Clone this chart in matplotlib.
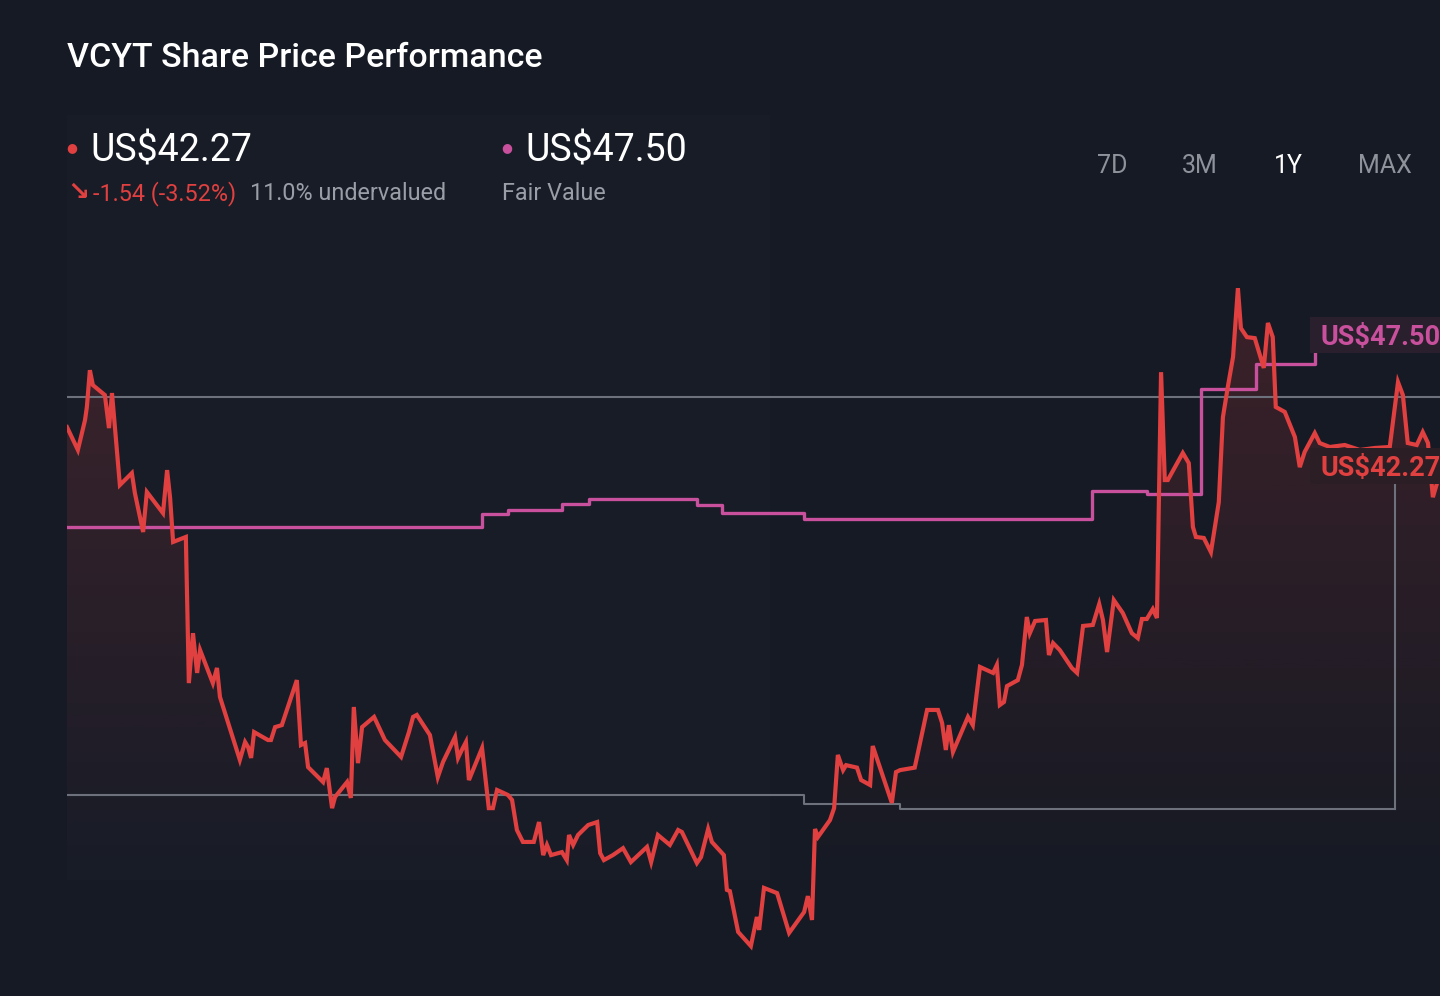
import numpy as np
import matplotlib
matplotlib.use("Agg")
import matplotlib.pyplot as plt
from matplotlib.colors import to_rgb
from matplotlib.patches import Rectangle

# --- data ---
days = [0, 2.9, 4.8, 5.3, 6.1, 6.9, 10.1, 11.2, 12.0, 14.1, 17.3, 18.1, 20.3, 21.3, 25.6,
        26.7, 27.5, 28.3, 31.7, 32.5, 33.6, 34.7, 35.5, 38.9, 40.0, 40.8, 46.1, 47.5, 48.3,
        49.1, 49.9, 53.6, 54.4, 55.5, 57.3, 61.3, 62.4, 63.5, 64.3, 68.3, 69.3, 70.7, 71.5,
        74.7, 75.7, 76.5, 77.6, 78.7, 81.9, 84.8, 89.1, 91.2, 92.3, 93.3, 96.8, 98.9, 100.3,
        103.5, 104.3, 105.3, 106.4, 107.2, 110.7, 112.5, 113.6, 114.7, 117.6, 118.7, 120.0,
        121.6, 124.5, 125.9, 127.0, 128.0, 129.1, 132.0, 133.3, 133.9, 135.0, 136.3, 139.0,
        141.4, 142.2, 143.2, 145.6, 148.3, 150.4, 154.7, 155.8, 157.6, 160.8, 163.0, 164.0,
        168.0, 169.1, 171.0, 172.0, 175.2, 176.0, 176.8, 179.0, 182.4, 184.0, 184.6, 185.9,
        189.4, 192.6, 196.6, 197.6, 198.7, 199.5, 200.3, 203.5, 204.6, 205.6, 207.0, 207.8,
        210.7, 211.8, 214.2, 214.9, 220.0, 221.1, 222.2, 226.1, 229.4, 232.3, 233.4, 234.4,
        235.2, 236.3, 240.3, 241.6, 243.5, 247.0, 248.0, 248.8, 249.9, 250.7, 253.6, 254.7,
        256.0, 256.8, 258.2, 261.1, 261.9, 263.0, 264.8, 268.0, 269.4, 271.0, 273.6, 275.3,
        276.3, 277.4, 279.2, 281.6, 284.0, 285.6, 286.7, 288.0, 289.6, 290.7, 291.8, 292.8,
        293.6, 297.6, 299.2, 300.3, 301.1, 303.2, 305.1, 307.2, 308.3, 309.6, 311.0, 312.3,
        313.1, 314.7, 316.8, 319.2, 320.3, 321.6, 322.4, 324.8, 327.5, 328.8, 330.1, 332.8,
        334.1, 336.8, 340.8, 344.8, 348.8, 352.8, 355.0, 356.3, 357.6, 360.0, 361.6, 363.0,
        364.3, 365.4, 366.2]
price = [43.80, 42.88, 44.08, 44.61, 46.09, 45.49, 45.09, 43.76, 45.17, 41.47, 41.95, 41.15,
         39.58, 41.19, 40.34, 42.07, 40.95, 39.18, 39.38, 33.50, 35.51, 33.91, 34.83, 33.50,
         34.11, 32.94, 30.41, 31.13, 30.93, 30.49, 31.53, 31.21, 31.21, 31.73, 31.81, 33.62,
         31.01, 31.09, 30.12, 29.52, 30.08, 28.47, 28.92, 29.52, 28.88, 32.54, 30.28, 31.73,
         32.14, 31.21, 30.53, 31.53, 32.14, 32.22, 31.41, 29.72, 30.33, 31.33, 30.49, 30.81,
         31.13, 29.60, 30.89, 28.47, 28.47, 29.20, 29.00, 28.80, 27.59, 27.11, 27.11, 27.91,
         26.58, 26.99, 26.58, 26.70, 26.38, 27.39, 26.99, 27.39, 27.79, 27.91, 26.66, 26.38,
         26.58, 26.86, 26.30, 26.91, 26.30, 27.39, 26.99, 27.59, 27.51, 26.26, 26.50, 27.63,
         27.11, 26.58, 25.18, 25.13, 23.49, 22.92, 24.09, 23.57, 25.26, 25.05, 23.45, 24.29,
         24.93, 23.97, 27.63, 27.31, 27.99, 28.47, 30.61, 30.00, 30.20, 30.10, 29.60, 29.40,
         30.97, 28.68, 29.92, 30.00, 30.10, 32.42, 32.42, 31.90, 30.81, 31.81, 30.73, 32.14,
         31.81, 34.15, 33.91, 34.23, 32.62, 32.74, 33.38, 33.62, 34.23, 36.16, 35.51, 36.00,
         36.04, 34.63, 35.11, 34.83, 34.11, 33.91, 35.80, 35.84, 36.68, 36.04, 34.75, 36.84,
         36.32, 35.51, 35.31, 36.08, 36.08, 36.48, 36.12, 46.01, 41.67, 41.67, 42.76, 42.35,
         39.78, 39.38, 39.34, 38.77, 40.78, 44.20, 45.41, 46.62, 49.39, 47.78, 47.42, 47.38,
         46.18, 47.99, 47.42, 44.61, 44.41, 43.40, 42.19, 42.80, 43.56, 43.16, 43.00, 43.08,
         42.88, 42.96, 43.00, 45.61, 45.09, 43.16, 43.08, 43.60, 43.16, 40.98, 41.55, 41.95]

fv_days = [0, 110.7, 117.6, 132.0, 139.2, 168.0, 174.7, 196.6, 273.4, 288.0, 302.4, 317.1, 332.8, 336]
fv_values = [39.78, 40.30, 40.46, 40.70, 40.91, 40.66, 40.34, 40.10, 41.23, 41.11, 45.33, 46.34, 47.50, 47.50]

upper_ref = 45.01
low_days = [0, 196.6, 222.2, 354.2]
low_values = [29.00, 28.64, 28.43, 28.43]
marker_day = 354.2
marker_top = 41.5

last_price = "US$42.27"
fair_value = "US$47.50"
change_text = "-1.54 (-3.52%)"
valuation_text = "11.0% undervalued"
periods = ["7D", "3M", "1Y", "MAX"]

# --- style ---
BG = "#151a24"
RED = "#e0403f"
PINK = "#c8509c"
GREY = "#6c717b"
MUTED = "#9a9ea6"
FONT = ["Roboto", "DejaVu Sans"]

fig = plt.figure(figsize=(14.4, 9.96), dpi=100, facecolor=BG)

# subtle header panel, behind the plot
fig.patches.append(Rectangle((67 / 1440, 1 - 880 / 996), 703 / 1440, 765 / 996,
                             transform=fig.transFigure, facecolor="#171c27",
                             edgecolor="none", zorder=-1))

ax = fig.add_axes([67 / 1440, 36 / 996, 1 - 67 / 1440, 730 / 996])
ax.set_facecolor("none")
ymin, ymax = 22.36, 51.73
ax.set_xlim(0, 366.2)
ax.set_ylim(ymin, ymax)
ax.axis("off")

# gradient fill under the price line
poly = ax.fill_between(days, price, ymin, facecolor="none", edgecolor="none")
grad = np.zeros((256, 1, 4))
grad[..., :3] = to_rgb(RED)
grad[..., 3] = np.linspace(0.2, 0.0, 256).reshape(-1, 1)
img = ax.imshow(grad, extent=[0, 366.2, 25.0, max(price)], aspect="auto",
                origin="upper", zorder=1)
img.set_clip_path(poly.get_paths()[0], transform=ax.transData)

# reference lines
ax.axhline(upper_ref, color=GREY, lw=1.5, zorder=2)
ax.step(low_days, low_values, where="post", color=GREY, lw=1.5, zorder=2)
ax.plot([marker_day, marker_day], [low_values[-1], marker_top], color=GREY, lw=1.5, zorder=2)

# fair value and price
ax.step(fv_days, fv_values, where="post", color=PINK, lw=2.4, zorder=3)
ax.plot(days, price, color=RED, lw=3.0, solid_joinstyle="miter", zorder=4)

# right-hand value labels
for ypx, txt, col, face in [(335, fair_value, PINK, "#2a1f2c"),
                            (466, last_price, RED, "#2b1e25")]:
    fig.patches.append(Rectangle((1310 / 1440, 1 - (ypx + 18) / 996), 130 / 1440, 36 / 996,
                                 transform=fig.transFigure, facecolor=face,
                                 edgecolor="none", zorder=9))
    fig.text(1320 / 1440, 1 - (ypx + 2) / 996, txt, color=col, fontsize=19.5,
             fontweight="bold", family=FONT, va="center", ha="left", zorder=10)

# header text
fig.text(67 / 1440, 1 - 58 / 996, "VCYT Share Price Performance", color="white",
         fontsize=24.5, fontweight="medium", family=FONT, va="center")

fig.text(66 / 1440, 1 - 148 / 996, "●", color=RED, fontsize=9, family=FONT, va="center")
fig.text(90 / 1440, 1 - 151 / 996, last_price, color="white", fontsize=27,
         family=FONT, va="center")
fig.text(67 / 1440, 1 - 193 / 996, "↘", color=RED, fontsize=19, family=FONT,
         va="center", fontweight="bold")
fig.text(93 / 1440, 1 - 194 / 996, change_text, color=RED, fontsize=16.8,
         family=FONT, va="center")
fig.text(250 / 1440, 1 - 194 / 996, valuation_text, color=MUTED, fontsize=16.8,
         family=FONT, va="center")

fig.text(501 / 1440, 1 - 148 / 996, "●", color=PINK, fontsize=9, family=FONT, va="center")
fig.text(525 / 1440, 1 - 151 / 996, fair_value, color="white", fontsize=27,
         family=FONT, va="center")
fig.text(502 / 1440, 1 - 194 / 996, "Fair Value", color=MUTED, fontsize=16.8,
         family=FONT, va="center")

for label, xc in zip(periods, [1112, 1200, 1288, 1385]):
    fig.text(xc / 1440, 1 - 166 / 996, label, color="white" if label == "1Y" else "#8d929b",
             fontsize=18, family=FONT, va="center", ha="center")

fig.savefig("out.png", dpi=100, facecolor=BG)
